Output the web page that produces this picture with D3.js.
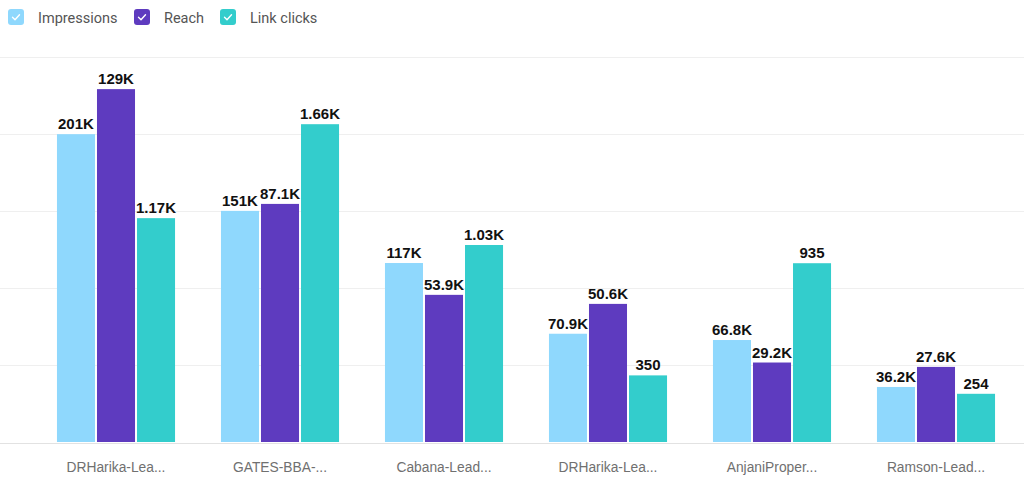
<!DOCTYPE html>
<html><head><meta charset="utf-8">
<script src="https://cdn.jsdelivr.net/npm/d3@7"></script>
<style>body{margin:0;background:#fff;font-family:Roboto,"Noto Sans",Arial,sans-serif;}</style>
</head><body><svg id="c" width="1024" height="490"></svg>
<script>
const categories = ["DRHarika-Lea...","GATES-BBA-...","Cabana-Lead...","DRHarika-Lea...","AnjaniProper...","Ramson-Lead..."];
const impressions = [201000,151000,117000,70900,66800,36200];
const reach = [129000,87100,53900,50600,29200,27600];
const linkClicks = [1170,1660,1030,350,935,254];
const impressionLabels = ["201K","151K","117K","70.9K","66.8K","36.2K"];
const reachLabels = ["129K","87.1K","53.9K","50.6K","29.2K","27.6K"];
const clickLabels = ["1.17K","1.66K","1.03K","350","935","254"];
const seriesNames = ["Impressions","Reach","Link clicks"];
const colors = ["#8fd8fd","#5e3bbf","#33cdcc"];

const svg = d3.select("#c");
const plotBottom = 442.5, gridTop = 57, valueTop = 59;
const x = d3.scaleBand().domain(d3.range(categories.length)).range([34, 1018]).paddingInner(0.28).paddingOuter(0.14);
const yGrid = d3.scaleLinear().domain([0,5]).range([plotBottom, gridTop]);
const yImp = d3.scaleLinear().domain([0,250000]).range([plotBottom, valueTop]);
const yReach = d3.scaleLinear().domain([0,140000]).range([plotBottom, valueTop]);
const yClicks = d3.scaleLinear().domain([0,2000]).range([plotBottom, valueTop]);
const inner = d3.scaleBand().domain([0,1,2]).range([0, x.bandwidth()]).paddingInner(0.05);

// gridlines
svg.append("g").selectAll("line").data(d3.range(6)).join("line")
  .attr("x1",0).attr("x2",1024)
  .attr("y1",d=>Math.round(yGrid(d))+0.5).attr("y2",d=>Math.round(yGrid(d))+0.5)
  .attr("stroke",d=>d===0?"#e2e2e2":"#efefef").attr("stroke-width",1);

const series = [
  {vals: impressions, labels: impressionLabels, y: yImp},
  {vals: reach, labels: reachLabels, y: yReach},
  {vals: linkClicks, labels: clickLabels, y: yClicks}
];
series.forEach((s,si)=>{
  const g = svg.append("g");
  g.selectAll("rect").data(s.vals).join("rect")
    .attr("x",(d,i)=>x(i)+inner(si))
    .attr("width",inner.bandwidth())
    .attr("y",d=>s.y(d))
    .attr("height",d=>plotBottom - 0.5 - s.y(d))
    .attr("fill",colors[si]);
  g.selectAll("text").data(s.vals).join("text")
    .attr("x",(d,i)=>x(i)+inner(si)+inner.bandwidth()/2)
    .attr("y",d=>s.y(d)-5)
    .attr("text-anchor","middle")
    .attr("font-family","Arial, Liberation Sans, sans-serif")
    .attr("font-weight","bold").attr("font-size",15).attr("fill","#111")
    .text((d,i)=>s.labels[i]);
});

// x labels
svg.append("g").selectAll("text").data(categories).join("text")
  .attr("x",(d,i)=>x(i)+x.bandwidth()/2)
  .attr("y",472)
  .attr("text-anchor","middle")
  .attr("font-family","Arial, Liberation Sans, sans-serif")
  .attr("font-size",13.8).attr("fill","#707070")
  .text(d=>d);

// legend
const legX = [8, 134, 220];
const leg = svg.append("g");
seriesNames.forEach((n,i)=>{
  const g = leg.append("g").attr("transform",`translate(${legX[i]},9)`);
  g.append("rect").attr("width",16).attr("height",16).attr("rx",3).attr("fill",colors[i]);
  g.append("path").attr("d","M4.5,8.3 L7,10.8 L11.5,5.8").attr("fill","none").attr("stroke","#fff").attr("stroke-width",1.4).attr("stroke-linecap","round").attr("stroke-linejoin","round");
  g.append("text").attr("x",30).attr("y",13.5).attr("font-size",14.5).attr("fill","#555").text(n);
});
</script></body></html>
